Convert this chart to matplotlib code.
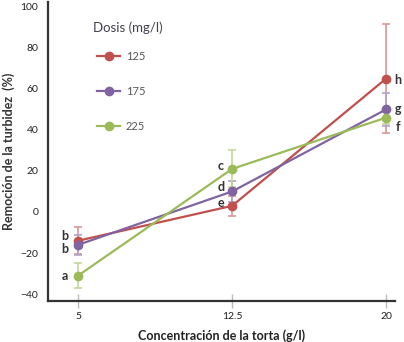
import matplotlib
matplotlib.use("Agg")
import matplotlib.pyplot as plt

# Cake concentration (g/l) on the x axis
concentracion = [5, 12.5, 20]
x_ticks = [5, 12.5, 20]
x_tick_labels = ["5", "12.5", "20"]
y_ticks = [-40, -20, 0, 20, 40, 60, 80, 100]

# Turbidity removal (%) per coagulant dose (mg/l)
dosis = ["125", "175", "225"]
remocion_125 = [-14, 3, 65]
remocion_175 = [-16, 10, 50]
remocion_225 = [-31, 21, 46]
error_125 = [6.5, 5, 26.5]
error_175 = [5, 5, 8]
error_225 = [6, 9, 3]

# Statistical grouping letters
letras_125 = ["b", "e", "h"]
letras_175 = ["b", "d", "g"]
letras_225 = ["a", "c", "f"]

series = [
    (dosis[0], remocion_125, error_125, letras_125, "#C0504D", "#D99694"),
    (dosis[1], remocion_175, error_175, letras_175, "#8064A2", "#B3A2C7"),
    (dosis[2], remocion_225, error_225, letras_225, "#9BBB59", "#C3D69B"),
]

plt.rcParams["font.family"] = ["Lato", "DejaVu Sans"]

W, H = 404, 342
fig = plt.figure(figsize=(W / 100, H / 100), dpi=100)
ax = fig.add_axes([48 / W, 41 / H, (395 - 48) / W, 299 / H])

# Letter offsets (points) for each series at each concentration
offsets = {
    "125": [(-9.5, 3.5), (-8, 2), (8.5, -1)],
    "175": [(-9.5, -3), (-8, 3), (8.5, 0)],
    "225": [(-9.5, 0), (-8, 2), (8.5, -6.5)],
}

for nombre, vals, errs, letras, color, ecolor in series:
    ax.errorbar(concentracion, vals, yerr=errs, fmt="none", ecolor=ecolor,
                elinewidth=1.2, capsize=3, capthick=1.2, zorder=2)
    ax.plot(concentracion, vals, "-o", color=color, lw=1.6, ms=6,
            label=nombre, zorder=3)
    for i, (xv, yv, lt) in enumerate(zip(concentracion, vals, letras)):
        dx, dy = offsets[nombre][i]
        ax.annotate(lt, (xv, yv), xytext=(dx, dy), textcoords="offset points",
                    ha="center", va="center", fontsize=9, fontweight="bold",
                    color="#333333", annotation_clip=False)

ax.set_xlim(3.53, 20.44)
ax.set_ylim(-43.4, 102.4)
ax.set_xticks(x_ticks)
ax.set_xticklabels(x_tick_labels)
ax.set_yticks(y_ticks)

for side in ("top", "right"):
    ax.spines[side].set_visible(False)
for side in ("left", "bottom"):
    ax.spines[side].set_color("#333333")
    ax.spines[side].set_linewidth(1.6)

ax.tick_params(axis="y", length=0, pad=7, labelsize=7.5, labelcolor="#222222")
ax.tick_params(axis="x", direction="inout", length=10, width=1, color="#BBBBBB",
               pad=3, labelsize=7.5, labelcolor="#222222")

ax.set_ylabel("Remoción de la turbidez  (%)", fontsize=9, fontweight="bold",
              color="#333333", labelpad=4)
ax.set_xlabel("Concentración de la torta (g/l)", fontsize=9, fontweight="bold",
              color="#222222", labelpad=6)

# Legend: title drawn separately so the entries keep their own spacing
fig.text(93 / W, 1 - 28 / H, "Dosis (mg/l)", fontsize=9.5, color="#404050",
         ha="left", va="center")
leg = ax.legend(loc="upper left",
                bbox_to_anchor=(97 / W, 1 - 51 / H), bbox_transform=fig.transFigure,
                frameon=False, fontsize=8, borderpad=0,
                borderaxespad=0, handlelength=2.1, handletextpad=0.5,
                labelspacing=2.14)
for t in leg.get_texts():
    t.set_color("#555555")

fig.savefig("out.png", dpi=100)
